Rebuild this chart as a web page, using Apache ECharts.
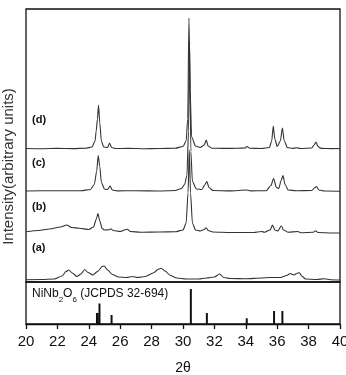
<!DOCTYPE html>
<html>
<head>
<meta charset="utf-8">
<script src="https://cdn.jsdelivr.net/npm/echarts@6/dist/echarts.min.js"></script>
<style>
  html, body { margin: 0; padding: 0; background: #fff; }
  #chart { width: 346px; height: 375px; }
</style>
</head>
<body>
<div id="chart"></div>
<script>
// XRD patterns, [2theta, intensity above own baseline]
const traceA = [
  [20, 0.3], [21, 0.5], [21.8, 1], [22.3, 4], [22.55, 8.5], [22.72, 10], [22.95, 7], [23.25, 3.5],
  [23.5, 6], [23.74, 10.5], [23.95, 7.5], [24.25, 5], [24.6, 9], [24.85, 13.5], [24.98, 14],
  [25.2, 10], [25.5, 5.5], [25.9, 3], [26.4, 2.5], [26.8, 3.5], [27.1, 2.5], [27.6, 3.5], [28.1, 7],
  [28.45, 11], [28.62, 11.7], [28.85, 9], [29.2, 4.5], [29.6, 2], [30.2, 1], [31, 1], [31.5, 2],
  [32.0, 3], [32.33, 6], [32.6, 2.5], [33, 1.5], [34, 1.2], [35, 2], [35.5, 2.5], [36.2, 2.5],
  [36.6, 4.5], [36.84, 6.5], [37.05, 5], [37.25, 6.5], [37.4, 7.3], [37.6, 3.5], [37.8, 1],
  [38.5, 0.5], [39.0, 1.2], [39.4, 0.3], [40, 0]
]
const traceB = [
  [20, 1.3], [20.8, 2.5], [21.5, 4], [22.2, 6], [22.6, 8], [22.9, 5.5], [23.4, 4.7], [24.0, 3.5],
  [24.3, 6], [24.48, 14], [24.58, 19.5], [24.7, 12], [24.85, 4.5], [25.0, 3], [25.3, 3.2], [25.4, 4.2],
  [25.55, 2.5], [26.0, 1.5], [26.45, 3.8], [26.65, 1.5], [27.3, 0.7], [28.5, 1], [29.5, 1.2],
  [30.0, 3], [30.2, 10], [30.32, 40], [30.4, 83], [30.48, 40], [30.6, 10], [30.8, 3], [31.1, 2],
  [31.35, 3.5], [31.47, 5.3], [31.6, 2.5], [31.9, 1], [33, 0.5], [34.5, 0.5], [35.0, 1.5], [35.2, 0.8],
  [35.55, 3], [35.7, 8], [35.85, 3], [36.05, 2], [36.26, 7.3], [36.4, 3], [36.7, 0.8], [37.3, 1.5],
  [37.5, 0.3], [38.3, 0.8], [38.45, 2.3], [38.6, 0.5], [39.5, 0], [40, 0]
]
const traceC = [
  [20, 0.5], [22, 0.8], [23.5, 0.8], [24.1, 2], [24.35, 7], [24.5, 20], [24.6, 36], [24.7, 25],
  [24.8, 9], [25.0, 2.5], [25.2, 2], [25.35, 5.5], [25.5, 1.5], [25.8, 0.6], [27, 0.8], [28.5, 0.5],
  [29.5, 1], [29.9, 3], [30.1, 7], [30.25, 16], [30.35, 60], [30.42, 150], [30.5, 40], [30.6, 10],
  [30.85, 2.5], [31.2, 2], [31.4, 7], [31.52, 10], [31.65, 4], [31.9, 1], [33, 0.6], [34.05, 1.5],
  [34.3, 0.6], [35.3, 0.8], [35.6, 6], [35.77, 13], [35.95, 4], [36.1, 3], [36.25, 11], [36.37, 16],
  [36.5, 7], [36.7, 1.5], [37.2, 0.7], [38.2, 1], [38.4, 4], [38.5, 5], [38.65, 1.5], [39, 0.5], [40, 0.3]
]
const traceD = [
  [20, 0.5], [21, 0.3], [22, 0.6], [23, 0.4], [23.8, 0.8], [24.2, 2], [24.4, 8], [24.47, 18],
  [24.55, 30], [24.62, 44], [24.7, 26], [24.8, 8], [24.95, 2], [25.2, 1.5], [25.32, 6], [25.45, 1.5],
  [25.7, 0.5], [26.5, 0.6], [27.5, 0.3], [28.5, 0.5], [29.5, 0.8], [30.0, 2.5], [30.2, 8], [30.3, 30],
  [30.38, 131], [30.45, 60], [30.55, 12], [30.8, 3], [31.1, 1.5], [31.35, 4], [31.48, 9], [31.6, 3],
  [31.85, 0.8], [32.5, 0.6], [33.5, 0.7], [33.95, 1], [34.08, 2.5], [34.25, 0.8], [35, 0.5], [35.5, 1.5],
  [35.65, 8], [35.75, 23], [35.85, 10], [36.0, 2.5], [36.2, 8], [36.33, 21], [36.45, 8], [36.65, 1.5],
  [37, 0.6], [37.2, 1.2], [37.5, 0.5], [38.2, 1], [38.35, 4], [38.47, 7], [38.6, 2.5], [38.8, 0.6],
  [39.5, 0.4], [40, 0.5]
]
const traceNames = ['(a)', '(b)', '(c)', '(d)']
const traceOffsets = [2, 49, 90.5, 133]
const traceLabelY = [34, 75, 119, 162]

// reference pattern NiNb2O6 (JCPDS 32-694)
const stickPos = [24.52, 24.57, 24.68, 25.45, 30.5, 31.52, 34.06, 35.8, 36.33]
const stickHeight = [11, 11, 20.5, 9, 35, 11, 5.7, 13, 13]

const xTicks = [20, 22, 24, 26, 28, 30, 32, 34, 36, 38, 40]

const chart = echarts.init(document.getElementById('chart'))

const fontFamily = '"Liberation Sans", Arial, sans-serif'
const traces = [traceA, traceB, traceC, traceD]

const series = traces.map((tr, i) => ({
  name: traceNames[i],
  type: 'line',
  xAxisIndex: 0,
  yAxisIndex: 0,
  showSymbol: false,
  smooth: 0.25,
  smoothMonotone: 'x',
  lineStyle: { color: '#333', width: 1.1 },
  data: tr.map(p => [p[0], p[1] + traceOffsets[i]]),
  silent: true,
  z: 2
}))

// scatter defaults to opacity 0.8, which also greys out its labels
series.push({
  name: 'labels',
  type: 'scatter',
  xAxisIndex: 0,
  yAxisIndex: 0,
  symbolSize: 1,
  silent: true,
  itemStyle: { color: 'rgba(0,0,0,0)', opacity: 1 },
  label: {
    show: true,
    position: 'right',
    distance: 0,
    formatter: p => p.data[2],
    color: '#111',
    fontFamily: fontFamily,
    fontWeight: 'bold',
    fontSize: 11
  },
  data: traceNames.map((n, i) => [20.35, traceLabelY[i], n])
})

series.push({
  name: 'NiNb2O6',
  type: 'bar',
  xAxisIndex: 1,
  yAxisIndex: 1,
  barWidth: 2,
  barGap: '-100%',
  silent: true,
  itemStyle: { color: '#111' },
  data: stickPos.map((x, i) => [x, stickHeight[i]])
})

series.push({
  name: 'refLabel',
  type: 'scatter',
  xAxisIndex: 1,
  yAxisIndex: 1,
  symbolSize: 1,
  silent: true,
  itemStyle: { color: 'rgba(0,0,0,0)', opacity: 1 },
  label: {
    show: true,
    position: 'right',
    distance: 0,
    formatter: 'NiNb{s|2}O{s|6} (JCPDS 32-694)',
    color: '#111',
    fontFamily: fontFamily,
    fontSize: 12,
    rich: {
      s: { fontSize: 8, fontFamily: fontFamily, color: '#111', verticalAlign: 'bottom', lineHeight: 19 }
    }
  },
  data: [[20.35, 30]]
})

// outerBoundsMode 'none' keeps the grids exactly where they are placed
const option = {
  backgroundColor: '#fff',
  animation: false,
  grid: [
    { left: 26, right: 6, top: 9, height: 273, show: true, borderColor: '#111', borderWidth: 1.3, outerBoundsMode: 'none' },
    { left: 26, right: 6, top: 282, height: 42, show: true, borderColor: '#111', borderWidth: 1.3, outerBoundsMode: 'none' },
    // only carries the y-axis title, centred on the whole frame
    { left: 20, right: 6, top: 9, height: 315, outerBoundsMode: 'none' }
  ],
  xAxis: [
    {
      gridIndex: 0, type: 'value', min: 20, max: 40, interval: 2,
      axisLine: { show: false }, axisTick: { show: false }, axisLabel: { show: false }, splitLine: { show: false }
    },
    {
      gridIndex: 1, type: 'value', min: 20, max: 40, interval: 2,
      axisLine: { show: true, onZero: false, lineStyle: { color: '#111', width: 1.3 } },
      axisTick: { show: true, inside: false, length: 5, lineStyle: { color: '#111', width: 1.3 } },
      axisLabel: {
        show: true, margin: 10, color: '#111', fontFamily: fontFamily, fontSize: 15,
        formatter: v => xTicks.includes(v) ? String(v) : ''
      },
      splitLine: { show: false },
      name: '2θ',
      nameLocation: 'middle',
      nameGap: 37,
      nameTextStyle: { color: '#111', fontFamily: fontFamily, fontSize: 14 }
    },
    {
      gridIndex: 2, type: 'value', min: 20, max: 40, show: false
    }
  ],
  yAxis: [
    {
      gridIndex: 0, type: 'value', min: 0, max: 273,
      axisLine: { show: false }, axisTick: { show: false }, axisLabel: { show: false }, splitLine: { show: false }
    },
    {
      gridIndex: 1, type: 'value', min: 0, max: 42,
      axisLine: { show: false }, axisTick: { show: false }, axisLabel: { show: false }, splitLine: { show: false }
    },
    {
      gridIndex: 2, type: 'value', min: 0, max: 1,
      axisLine: { show: false }, axisTick: { show: false }, axisLabel: { show: false }, splitLine: { show: false },
      name: 'Intensity(arbitrary units)',
      nameLocation: 'middle',
      nameGap: 4,
      nameTextStyle: { color: '#333', fontFamily: fontFamily, fontSize: 15 }
    }
  ],
  series: series
}

chart.setOption(option, true)
</script>
</body>
</html>
